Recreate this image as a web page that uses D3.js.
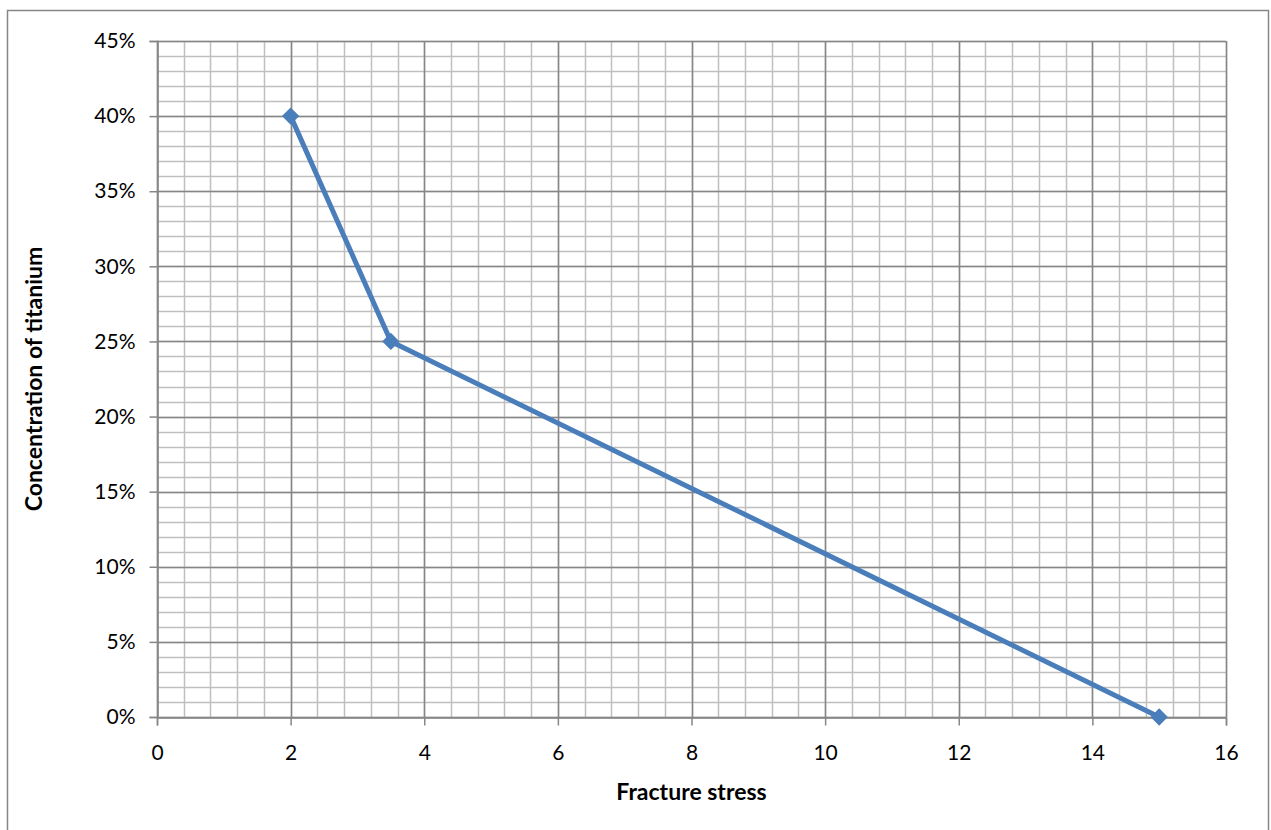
<!DOCTYPE html>
<html>
<head>
<meta charset="utf-8">
<script src="https://cdn.jsdelivr.net/npm/d3@7"></script>
<style>
  html, body { margin: 0; padding: 0; background: #fff; }
  svg text { font-family: Lato, "Open Sans", "Liberation Sans", sans-serif; fill: #000; }
</style>
</head>
<body>
<svg id="chart" width="1271" height="830"></svg>
<script>
// Fracture stress vs. titanium concentration
const stress = [2, 3.5, 15];
const concentration = [0.40, 0.25, 0.00];
const xTicks = [0, 2, 4, 6, 8, 10, 12, 14, 16];
const yTicks = [0, 0.05, 0.10, 0.15, 0.20, 0.25, 0.30, 0.35, 0.40, 0.45];

const svg = d3.select("#chart");
const plotLeft = 157, plotRight = 1226, plotTop = 41, plotBottom = 717;

// outer chart frame
svg.append("rect")
  .attr("x", 7.5).attr("y", 10.5)
  .attr("width", 1261).attr("height", 830)
  .attr("fill", "none").attr("stroke", "#868686").attr("stroke-width", 1.5);

const x = d3.scaleLinear().domain([0, 16]).range([plotLeft, plotRight]);
const y = d3.scaleLinear().domain([0, 0.45]).range([plotBottom, plotTop]);
const px = v => Math.round(x(v)) + 0.5;
const py = v => Math.round(y(v)) + 0.5;

const grid = svg.append("g");
// minor grid
const xMinor = d3.range(0, 16.0001, 0.4);
const yMinor = d3.range(0, 0.45001, 0.01);
grid.selectAll("line.xm").data(xMinor).join("line")
  .attr("class", "xm")
  .attr("x1", px).attr("x2", px)
  .attr("y1", plotTop).attr("y2", plotBottom)
  .attr("stroke", "#bfbfbf").attr("stroke-width", 1.5);
grid.selectAll("line.ym").data(yMinor).join("line")
  .attr("class", "ym")
  .attr("x1", plotLeft).attr("x2", plotRight)
  .attr("y1", py).attr("y2", py)
  .attr("stroke", "#bfbfbf").attr("stroke-width", 1.5);
// major grid
grid.selectAll("line.xM").data(xTicks).join("line")
  .attr("class", "xM")
  .attr("x1", px).attr("x2", px)
  .attr("y1", plotTop).attr("y2", plotBottom)
  .attr("stroke", "#868686").attr("stroke-width", 1.5);
grid.selectAll("line.yM").data(yTicks).join("line")
  .attr("class", "yM")
  .attr("x1", plotLeft).attr("x2", plotRight)
  .attr("y1", py).attr("y2", py)
  .attr("stroke", "#868686").attr("stroke-width", 1.5);

// axes
const xAxis = d3.axisBottom(x).tickValues(xTicks).tickSize(8).tickPadding(20)
  .tickFormat(d3.format("d"));
const yAxis = d3.axisLeft(y).tickValues(yTicks).tickSize(8).tickPadding(14)
  .tickFormat(d3.format(".0%"));

const gx = svg.append("g").attr("transform", `translate(0,${Math.round(plotBottom) + 0.5})`).call(xAxis);
const gy = svg.append("g").attr("transform", `translate(${Math.round(plotLeft) + 0.5},0)`).call(yAxis);
[gx, gy].forEach(g => {
  g.attr("font-size", null).attr("font-family", null);
  g.select(".domain").attr("stroke", "#868686").attr("stroke-width", 1.5);
  g.selectAll(".tick line").attr("stroke", "#868686").attr("stroke-width", 1.5);
  g.selectAll(".tick text").style("font-size", "21px").attr("fill", "#000");
});

// series line
const pts = stress.map((s, i) => [s, concentration[i]]);
svg.append("path")
  .datum(pts)
  .attr("d", d3.line().x(d => x(d[0])).y(d => y(d[1])))
  .attr("fill", "none").attr("stroke", "#4a7ebb").attr("stroke-width", 5)
  .attr("stroke-linejoin", "round");

// diamond markers
svg.selectAll("path.marker").data(pts).join("path")
  .attr("class", "marker")
  .attr("d", d3.symbol().type(d3.symbolSquare).size(150))
  .attr("transform", d => `translate(${x(d[0])},${y(d[1])}) rotate(45)`)
  .attr("fill", "#4a7ebb");

// axis titles
svg.append("text")
  .attr("x", (plotLeft + plotRight) / 2).attr("y", 800)
  .attr("text-anchor", "middle")
  .style("font-size", "23px").style("font-weight", "bold")
  .text("Fracture stress");

svg.append("text")
  .attr("transform", `translate(42,${(plotTop + plotBottom) / 2}) rotate(-90)`)
  .attr("text-anchor", "middle")
  .style("font-size", "23px").style("font-weight", "bold")
  .text("Concentration of titanium");
</script>
</body>
</html>
